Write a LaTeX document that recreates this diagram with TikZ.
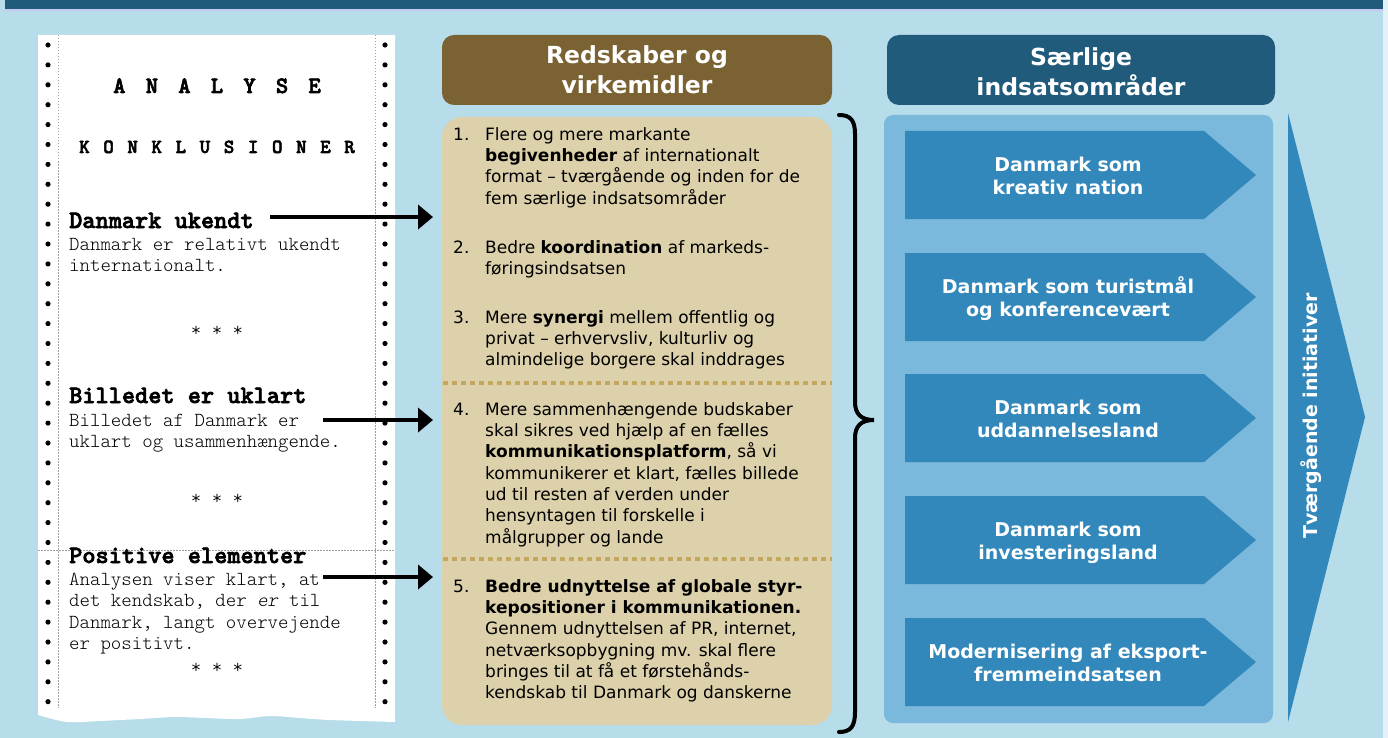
\documentclass[tikz,border=0pt]{standalone}
\usepackage{fontspec}
\setmainfont{DejaVu Sans}
\newfontfamily\monof{lmmonolt10-regular.otf}[BoldFont=lmmonolt10-bold.otf, BoldFeatures={FakeBold=2.6}, ItalicFont=lmmonolt10-oblique.otf]
\usetikzlibrary{arrows.meta}
\definecolor{bgblue}{HTML}{B7DCEA}
\definecolor{topblue}{HTML}{215B7B}
\definecolor{lav}{HTML}{C8C8F4}
\definecolor{brownhdr}{HTML}{7A6232}
\definecolor{tan}{HTML}{DCD1AB}
\definecolor{gold}{HTML}{C4A862}
\definecolor{boxblue}{HTML}{7AB8DC}
\definecolor{chev}{HTML}{3288BB}
\definecolor{edge}{HTML}{E4F1F6}
\begin{document}
\begin{tikzpicture}[x=1pt,y=-1pt,
  mono/.style={font=\monof\fontsize{19.9}{21.5}\selectfont, inner sep=0pt, align=left},
  monohead/.style={font=\monof\bfseries\fontsize{25.1}{25}\selectfont, inner sep=0pt, anchor=base west},
  stars/.style={font=\monof\fontsize{19.9}{21.5}\selectfont, inner sep=0pt},
  itemtxt/.style={font=\fontsize{17}{21.3}\selectfont, inner sep=0pt, anchor=north west, align=left},
  hdr/.style={font=\bfseries\fontsize{23.5}{30}\selectfont, text=white, align=center, inner sep=0pt, anchor=north},
  chevtxt/.style={font=\bfseries\fontsize{19}{23}\selectfont, text=white, align=center, inner sep=0pt, anchor=north},
  bigarrow/.style={line width=4.5pt, -{Triangle[length=15pt,width=24pt]}},
  sep/.style={gold, line width=4.5pt, dash pattern=on 4.5pt off 4.5pt},
  paperdash/.style={gray!75, line width=0.7pt, dash pattern=on 1.5pt off 1.5pt},
]
\useasboundingbox (0,0) rectangle (1388,738);
% background
\fill[bgblue] (0,0) rectangle (1388,738);
\fill[edge] (1383,0) rectangle (1388,738);
\fill[topblue] (5,0) rectangle (1383,9);
\fill[lav] (5,9) rectangle (1383,11);

% ---------- paper ----------
\fill[white] (38,35) -- (395,35) -- plot[smooth] coordinates {(395,722) (330,720) (300,718) (270,716) (240,719) (205,718) (175,717) (140,719) (100,721) (67,722) (38,715)} -- cycle;
\draw[paperdash] (58,35) -- (58,708);
\draw[paperdash] (375,35) -- (375,708);
\draw[paperdash] (38,550) -- (395,550);
\foreach \i in {0,...,33} {
  \fill (48,{45+\i*19.9}) circle[radius=2.6pt];
  \fill (385,{45+\i*19.9}) circle[radius=2.6pt];
}
\node[font={\monof\bfseries\fontsize{23.5}{23.5}\selectfont\spaceskip=20.2pt\relax}, inner sep=0pt, anchor=base] (analyse) at (217,93) {A N A L Y S E};
\node[font={\monof\bfseries\fontsize{20}{20}\selectfont\spaceskip=13.6pt\relax}, inner sep=0pt, anchor=base] (konkl) at (217,153) {K O N K L U S I O N E R};

\node[monohead] (h1) at (69,228) {Danmark ukendt};
\node[mono, anchor=north west] (t1) at (69,{250-15.05}) {\strut Danmark er relativt ukendt\\internationalt.};
\node[stars] (s1) at (217,331) {* * *};

\node[monohead] (h2) at (69,403) {Billedet er uklart};
\node[mono, anchor=north west] (t2) at (69,{426-15.05}) {\strut Billedet af Danmark er\\uklart og usammenhængende.};
\node[stars] (s2) at (217,499) {* * *};

\node[monohead] (h3) at (69,563) {Positive elementer};
\node[mono, anchor=north west] (t3) at (69,{585-15.05}) {\strut Analysen viser klart, at\\det kendskab, der \textit{er} til\\Danmark, langt overvejende\\er positivt.};
\node[stars] (s3) at (217,668) {* * *};

% ---------- middle column ----------
\fill[brownhdr, rounded corners=12pt] (442,35) rectangle (832,105);
\node[hdr] (hdrmid) at (637,{63-21}) {\strut Redskaber og\\virkemidler};

\fill[tan, rounded corners=20pt] (442,117) rectangle (832,725);
\draw[sep] (443,383) -- (832,383);
\draw[sep] (443,559) -- (832,559);

\node[itemtxt] (n1) at (453,{140-14.91}) {\strut 1.};
\node[itemtxt] (i1) at (485,{140-14.91}) {\strut Flere og mere markante\\\textbf{begivenheder} af internationalt\\format – tværgående og inden for de\\fem særlige indsatsområder};
\node[itemtxt] (n2) at (453,{253-14.91}) {\strut 2.};
\node[itemtxt] (i2) at (485,{253-14.91}) {\strut Bedre \textbf{koordination} af markeds-\\føringsindsatsen};
\node[itemtxt] (n3) at (453,{323-14.91}) {\strut 3.};
\node[itemtxt] (i3) at (485,{323-14.91}) {\strut Mere \textbf{synergi} mellem offentlig og\\privat – erhvervsliv, kulturliv og\\almindelige borgere skal inddrages};
\node[itemtxt] (n4) at (453,{415-14.91}) {\strut 4.};
\node[itemtxt] (i4) at (485,{415-14.91}) {\strut Mere sammenhængende budskaber\\skal sikres ved hjælp af en fælles\\\textbf{kommunikationsplatform}, så vi\\kommunikerer et klart, fælles billede\\ud til resten af verden under\\hensyntagen til forskelle i\\målgrupper og lande};
\node[itemtxt] (n5) at (453,{592-14.91}) {\strut 5.};
\node[itemtxt] (i5) at (485,{592-14.91}) {\strut \textbf{Bedre udnyttelse af globale styr-}\\\textbf{kepositioner i kommunikationen.}\\Gennem udnyttelsen af PR, internet,\\netværksopbygning mv. skal flere\\bringes til at få et førstehånds-\\kendskab til Danmark og danskerne};

% arrows
\coordinate (a1s) at (270,217);
\coordinate (a1e) at (433,217);
\coordinate (a2s) at (323,420);
\coordinate (a2e) at (433,420);
\coordinate (a3s) at (323,577);
\coordinate (a3e) at (433,577);
\draw[bigarrow] (a1s) -- (a1e);
\draw[bigarrow] (a2s) -- (a2e);
\draw[bigarrow] (a3s) -- (a3e);

% brace
\draw[line width=4pt, line cap=round] (839,115) .. controls (851,115) and (855,121) .. (855,134)
  -- (855,402) .. controls (855,414) and (861,420) .. (874,420)
  .. controls (861,420) and (855,426) .. (855,438)
  -- (855,712) .. controls (855,726) and (851,732) .. (839,732);

% ---------- right column ----------
\fill[topblue, rounded corners=12pt] (887,35) rectangle (1275,105);
\node[hdr] (hdrright) at (1081,{65-21}) {\strut Særlige\\indsatsområder};

\fill[boxblue, rounded corners=9pt] (884,115) rectangle (1273,723);

\foreach \t in {131,253,374,496,618} {
  \fill[chev] (905,\t) -- (1204,\t) -- (1256,{\t+44}) -- (1204,{\t+88}) -- (905,{\t+88}) -- cycle;
}
\node[chevtxt] (c1) at (1068,{131+40-16.1}) {\strut Danmark som\\kreativ nation};
\node[chevtxt] (c2) at (1068,{253+40-16.1}) {\strut Danmark som turistmål\\og konferencevært};
\node[chevtxt] (c3) at (1068,{374+40-16.1}) {\strut Danmark som\\uddannelsesland};
\node[chevtxt] (c4) at (1068,{496+40-16.1}) {\strut Danmark som\\investeringsland};
\node[chevtxt] (c5) at (1068,{618+40-16.1}) {\strut Modernisering af eksport-\\fremmeindsatsen};

\fill[chev] (1288,113) -- (1365,417) -- (1288,722) -- cycle;
\node[font=\bfseries\fontsize{19}{23}\selectfont, text=white, inner sep=0pt, rotate=90] (tvaer) at (1311,416) {Tværgående initiativer};
\end{tikzpicture}
\end{document}
